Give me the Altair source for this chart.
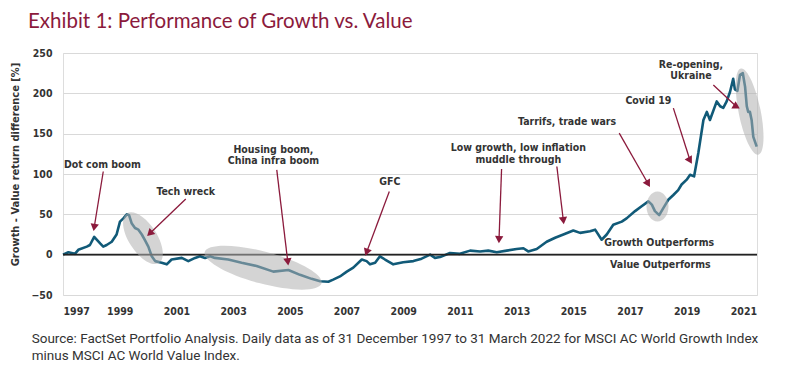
import altair as alt
import pandas as pd

# ---------------- data ----------------
years = [1997.00, 1997.19, 1997.42, 1997.54, 1997.84, 1997.95, 1998.10, 1998.31, 1998.42, 1998.54,
         1998.72, 1998.89, 1999.01, 1999.13, 1999.25, 1999.33, 1999.42, 1999.54, 1999.66, 1999.78,
         1999.89, 2000.01, 2000.13, 2000.25, 2000.48, 2000.66, 2000.83, 2001.19, 2001.42, 2001.66,
         2001.83, 2002.01, 2002.19, 2002.36, 2002.83, 2003.30, 2003.83, 2004.42, 2004.95, 2005.36,
         2005.77, 2006.07, 2006.36, 2006.53, 2006.77, 2007.01, 2007.24, 2007.54, 2007.71, 2007.83,
         2008.01, 2008.18, 2008.36, 2008.65, 2009.00, 2009.36, 2009.65, 2009.95, 2010.12, 2010.30,
         2010.65, 2011.00, 2011.36, 2011.71, 2012.00, 2012.30, 2012.65, 2013.00, 2013.24, 2013.41,
         2013.71, 2014.06, 2014.36, 2014.65, 2015.00, 2015.24, 2015.59, 2015.77, 2016.00, 2016.18,
         2016.41, 2016.71, 2016.88, 2017.18, 2017.41, 2017.65, 2017.77, 2017.88, 2018.03, 2018.18,
         2018.35, 2018.53, 2018.70, 2018.82, 2019.00, 2019.12, 2019.26, 2019.41, 2019.59, 2019.71,
         2019.82, 2020.06, 2020.18, 2020.29, 2020.41, 2020.53, 2020.64, 2020.70, 2020.79, 2020.88,
         2020.98, 2021.06, 2021.12, 2021.17, 2021.23, 2021.29, 2021.35, 2021.47]

values = [0, 3, 1, 6, 10, 12, 22, 14, 10, 12,
          16, 25, 41, 45, 50, 49, 39, 33, 31, 25,
          18, 10, -2, -8, -10, -12, -6, -4, -8, -4,
          -2, -4, -2, -4, -6, -10, -14, -21, -19, -25,
          -30, -33, -33.5, -31, -27, -21, -16, -6, -8, -12,
          -10, -2, -6, -12, -9.5, -8, -5, 0, -4, -3,
          2, 1, 5, 4, 5, 3, 5, 7, 8, 4,
          7, 16, 21, 25, 30, 27, 29, 31, 18.5, 25,
          37, 41, 45, 54, 60, 66, 62, 54, 49, 58,
          68, 74, 80, 87, 93, 99, 97, 126, 167, 177,
          167, 190, 184, 182, 190, 202, 218, 205, 203, 223,
          225, 208, 184, 177, 177, 167, 146, 134]

x_ticks = [1997, 1999, 2001, 2003, 2005, 2007, 2009, 2011, 2013, 2015, 2017, 2019, 2021]
y_ticks = [-50, 0, 50, 100, 150, 200, 250]

# highlighted periods (ellipses)
ell_year = [1999.82, 2004.06, 2017.97, 2021.22]
ell_value = [20.4, -16.1, 59.8, 177.4]
ell_semi_major = [29.5, 60.5, 15, 44]
ell_semi_minor = [14, 16, 11, 11]
ell_angle = [57, 15, 90, 78.5]

# arrows: tail -> head
arr_year = [1998.42, 2001.33, 2004.54, 2008.51, 2012.47, 2014.42, 2016.62, 2018.53, 2019.94]
arr_value = [103.1, 68.9, 105.2, 78.3, 106.1, 109.3, 150.6, 181.6, 210.4]
arr_head_year = [1998.10, 2000.06, 2004.93, 2007.71, 2012.38, 2014.65, 2017.64, 2019.12, 2020.76]
arr_head_value = [33.7, 26.2, -9.0, 3.0, 18.6, 42.1, 87.9, 116.7, 183.4]
arr_angle = [189.3, 226.3, 173.2, 200.3, 182.3, 173.0, 150.3, 150.0, 120.7]

# annotation labels
ann_text = ["Dot com boom", "Tech wreck", "Housing boom,", "China infra boom", "GFC",
            "Low growth, low inflation", "muddle through", "Tarrifs, trade wars", "Covid 19",
            "Re-opening,", "Ukraine", "Growth Outperforms", "Value Outperforms"]
ann_year = [1998.39, 2001.33, 2004.42, 2004.42, 2008.53, 2013.06, 2013.06, 2014.78, 2017.65,
            2019.15, 2019.15, 2018.03, 2018.07]
ann_value = [111.4, 78.3, 130.0, 115.5, 89.5, 132.1, 117.6, 164.2, 191.0, 235.1, 221.9, 14.5, -12.4]

title_text = "Exhibit 1: Performance of Growth vs. Value"
source_line1 = "Source: FactSet Portfolio Analysis. Daily data as of 31 December 1997 to 31 March 2022 for MSCI AC World Growth Index"
source_line2 = "minus MSCI AC World Value Index."

# ---------------- styling ----------------
MAROON = "#8B1A3C"
LINE = "#115A78"
TXT = "#333333"
LFONT = "DejaVu Sans Condensed"

line_df = pd.DataFrame({"year": years, "value": values})


def ellipse_path(a, b):
    r = b / a
    return f"M -1 0 A 1 {r:.4f} 0 1 1 1 0 A 1 {r:.4f} 0 1 1 -1 0 Z"


ell_df = pd.DataFrame({
    "year": ell_year, "value": ell_value,
    "path": [ellipse_path(a, b) for a, b in zip(ell_semi_major, ell_semi_minor)],
    "size": [(2 * a) ** 2 for a in ell_semi_major],
    "angle": ell_angle,
})
arr_df = pd.DataFrame({"year": arr_year, "value": arr_value,
                       "year2": arr_head_year, "value2": arr_head_value})
head_df = pd.DataFrame({"year": arr_head_year, "value": arr_head_value, "angle": arr_angle})
ann_df = pd.DataFrame({"year": ann_year, "value": ann_value, "label": ann_text})
zero_df = pd.DataFrame({"value": [0]})

xscale = alt.Scale(domain=[1997, 2021.48], nice=False, zero=False)
yscale = alt.Scale(domain=[-50, 250], nice=False)

x_enc = alt.X("year:Q", scale=xscale,
              axis=alt.Axis(values=x_ticks, format="d", title=None, grid=False, domain=False,
                            ticks=False, tickSize=0, labelPadding=11, labelFont=LFONT,
                            labelFontWeight="bold", labelFontSize=10.5, labelColor=TXT))
y_enc = alt.Y("value:Q", scale=yscale,
              axis=alt.Axis(values=y_ticks, title="Growth - Value return difference [%]",
                            grid=True, gridColor="#d9d9d9", gridWidth=1, domain=False,
                            ticks=False, tickSize=0, labelPadding=11, labelFont=LFONT,
                            labelFontWeight="bold", labelFontSize=10.5, labelColor=TXT,
                            titleFont=LFONT, titleFontWeight="bold", titleFontSize=11,
                            titleColor=TXT, titleAngle=270, titleX=-48, titleY=111,
                            titleAlign="center", titleBaseline="middle"))

line = alt.Chart(line_df).mark_line(color=LINE, strokeWidth=2.6, strokeJoin="round").encode(
    x=x_enc, y=y_enc)

zero = alt.Chart(zero_df).mark_rule(color="#222222", strokeWidth=1.6).encode(
    y=alt.Y("value:Q", scale=yscale))

ellipses = alt.Chart(ell_df).mark_point(filled=True, color="#b0b0b0", opacity=0.55, strokeWidth=0).encode(
    x=alt.X("year:Q", scale=xscale), y=alt.Y("value:Q", scale=yscale),
    shape=alt.Shape("path:N", scale=None),
    size=alt.Size("size:Q", scale=None),
    angle=alt.Angle("angle:Q", scale=None))

arrows = alt.Chart(arr_df).mark_rule(color=MAROON, strokeWidth=1.3).encode(
    x=alt.X("year:Q", scale=xscale), y=alt.Y("value:Q", scale=yscale),
    x2="year2:Q", y2="value2:Q")

heads = alt.Chart(head_df).mark_point(shape="triangle-up", filled=True, size=70, color=MAROON,
                                      opacity=1, strokeWidth=0).encode(
    x=alt.X("year:Q", scale=xscale), y=alt.Y("value:Q", scale=yscale),
    angle=alt.Angle("angle:Q", scale=None))

labels = alt.Chart(ann_df).mark_text(font=LFONT, fontWeight="bold", fontSize=10.5, color=TXT,
                                     align="center", baseline="middle").encode(
    x=alt.X("year:Q", scale=xscale), y=alt.Y("value:Q", scale=yscale), text="label:N")

title = alt.Chart(pd.DataFrame({"t": [title_text]})).mark_text(
    font="Lato", fontSize=20.5, color=MAROON, align="left", baseline="alphabetic").encode(
    x=alt.value(-35), y=alt.value(-25), text="t:N")

source1 = alt.Chart(pd.DataFrame({"t": [source_line1]})).mark_text(
    font="Roboto", fontSize=13.5, color=TXT, align="left", baseline="middle").encode(
    x=alt.value(-31.3), y=alt.value(285.5), text="t:N")

source2 = alt.Chart(pd.DataFrame({"t": [source_line2]})).mark_text(
    font="Roboto", fontSize=13.5, color=TXT, align="left", baseline="middle").encode(
    x=alt.value(-31.3), y=alt.value(302.5), text="t:N")

chart = alt.layer(line, zero, ellipses, arrows, heads, labels, title, source1, source2).properties(
    width=694, height=242,
    autosize=alt.AutoSizeParams(type="none"),
    padding={"left": 55, "top": 45, "right": 30, "bottom": 69},
).configure_view(stroke=None).configure(background="white")

chart.save("out.html", embed_options={"renderer": "svg", "actions": False})
